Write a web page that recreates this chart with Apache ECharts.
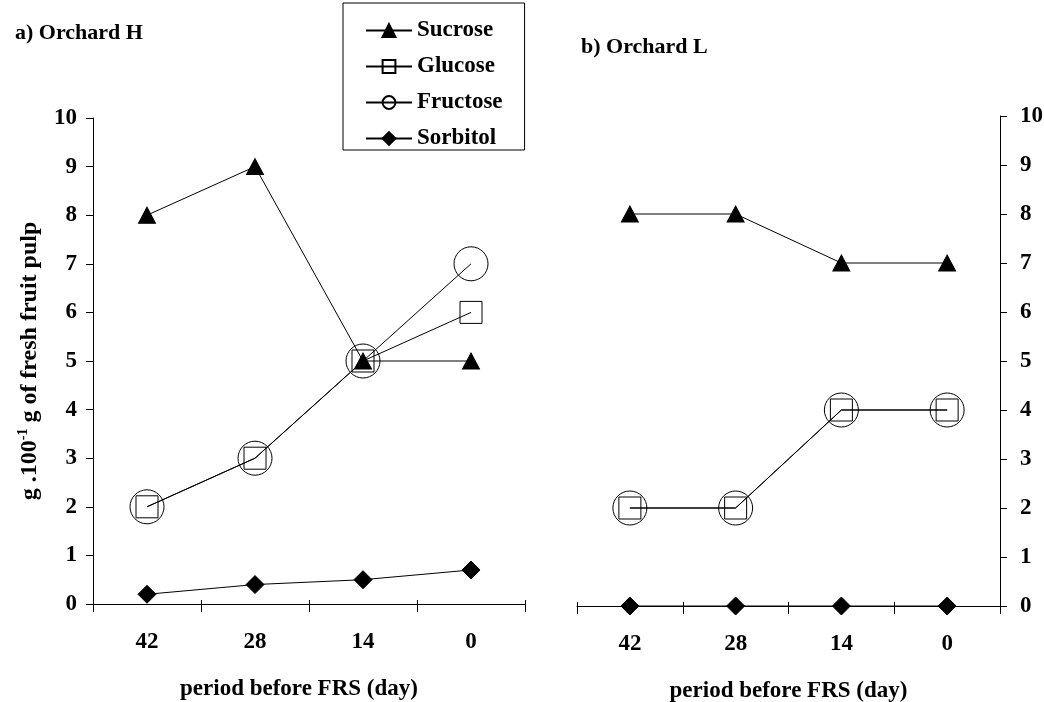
<!DOCTYPE html>
<html>
<head>
    <meta charset="utf-8" />
    <title></title>
    <script src="https://cdn.jsdelivr.net/npm/echarts@6/dist/echarts.min.js"></script>
    <script>
        // categories (days before FRS)
        let days = ['42', '28', '14', '0'];
        // Orchard H
        let sucroseH = [8, 9, 5, 5];
        let glucoseH = [2, 3, 5, 6];
        let fructoseH = [2, 3, 5, 7];
        let sorbitolH = [0.2, 0.4, 0.5, 0.7];
        // Orchard L
        let sucroseL = [8, 8, 7, 7];
        let glucoseL = [2, 2, 4, 4];
        let fructoseL = [2, 2, 4, 4];
        let sorbitolL = [0, 0, 0, 0];

        let font = '"Liberation Serif", "Times New Roman", serif';
        let blk = '#000';

        let serie = function (name, data, xi, yi, symbol, size, fill) {
            return {
                name: name,
                type: 'line',
                data: data,
                xAxisIndex: xi,
                yAxisIndex: yi,
                symbol: symbol,
                symbolSize: size,
                lineStyle: { color: blk, width: 1 },
                itemStyle: { color: fill, borderColor: blk, borderWidth: 1 },
                emphasis: { disabled: true },
                z: name == 'Sucrose' ? 4 : 3
            };
        };

        let xAxisMain = function (gi) {
            return {
                type: 'category',
                gridIndex: gi,
                data: days,
                position: 'bottom',
                axisLine: { lineStyle: { color: blk, width: 1 } },
                axisTick: { show: true, length: 8, lineStyle: { color: blk } },
                axisLabel: { margin: 27, color: blk, fontSize: 23, fontWeight: 'bold', fontFamily: font },
                name: 'period before FRS (day)',
                nameLocation: 'middle',
                nameGap: 74,
                nameTextStyle: { color: blk, fontSize: 23, fontWeight: 'bold', fontFamily: font,
                    padding: gi == 0 ? [0, 20, 0, 0] : 0 }
            };
        };
        // second axis only for the inner half of the crossing ticks
        let xAxisInner = function (gi) {
            return {
                type: 'category',
                gridIndex: gi,
                data: days,
                position: 'bottom',
                axisLine: { show: false },
                axisTick: { show: true, inside: true, length: 4, lineStyle: { color: blk } },
                axisLabel: { show: false }
            };
        };
        let yAxis = function (gi, pos) {
            let ax = {
                type: 'value',
                gridIndex: gi,
                position: pos,
                min: 0,
                max: 10,
                interval: 1,
                splitLine: { show: false },
                axisLine: { show: true, lineStyle: { color: blk, width: 1 } },
                axisTick: { show: true, length: 7, lineStyle: { color: blk } },
                axisLabel: { margin: gi == 0 ? 16 : 20, color: blk, fontSize: 23, fontWeight: 'bold', fontFamily: font }
            };
            if (gi == 0) {
                ax.name = '{a|g .100}{s|-1}{a| g of fresh fruit pulp}';
                ax.nameLocation = 'middle';
                ax.nameRotate = 90;
                ax.nameGap = 49;
                ax.nameTextStyle = {
                    rich: {
                        a: { fontSize: 24, fontWeight: 'bold', fontFamily: font, color: blk, lineHeight: 28 },
                        s: { fontSize: 14, fontWeight: 'bold', fontFamily: font, color: blk, verticalAlign: 'top', lineHeight: 28 }
                    }
                };
            }
            return ax;
        };

        function InitChart() {
            var option = {
                backgroundColor: '#fff',
                animation: false,
                title: [
                    { text: 'a) Orchard H', left: 10, top: 17,
                      textStyle: { color: blk, fontSize: 22, fontWeight: 'bold', fontFamily: font } },
                    { text: 'b) Orchard L', left: 576, top: 31,
                      textStyle: { color: blk, fontSize: 22, fontWeight: 'bold', fontFamily: font } }
                ],
                legend: {
                    data: ['Sucrose', 'Glucose', 'Fructose', 'Sorbitol'],
                    orient: 'vertical',
                    left: 343,
                    top: 3,
                    padding: [16, 22, 0, 22],
                    itemWidth: 46,
                    itemHeight: 16,
                    itemGap: 13,
                    borderColor: blk,
                    borderWidth: 1,
                    backgroundColor: '#fff',
                    selectedMode: false,
                    textStyle: { color: blk, fontSize: 23, fontWeight: 'bold', fontFamily: font }
                },
                grid: [
                    { left: 93, top: 118, width: 432, height: 486, outerBoundsMode: 'none' },
                    { left: 577, top: 116, width: 423, height: 490, outerBoundsMode: 'none' }
                ],
                xAxis: [xAxisMain(0), xAxisMain(1), xAxisInner(0), xAxisInner(1)],
                yAxis: [yAxis(0, 'left'), yAxis(1, 'right')],
                series: [
                    serie('Fructose', fructoseH, 0, 0, 'circle', 34, 'rgba(0,0,0,0)'),
                    serie('Glucose', glucoseH, 0, 0, 'rect', 22, 'rgba(0,0,0,0)'),
                    serie('Sucrose', sucroseH, 0, 0, 'triangle', [17, 16], blk),
                    serie('Sorbitol', sorbitolH, 0, 0, 'diamond', [18, 18], blk),
                    serie('Fructose', fructoseL, 1, 1, 'circle', 34, 'rgba(0,0,0,0)'),
                    serie('Glucose', glucoseL, 1, 1, 'rect', 22, 'rgba(0,0,0,0)'),
                    serie('Sucrose', sucroseL, 1, 1, 'triangle', [17, 16], blk),
                    serie('Sorbitol', sorbitolL, 1, 1, 'diamond', [18, 18], blk)
                ]
            };
            echarts.init(document.getElementById('divChart')).setOption(option);
        }
        window.onload = InitChart;
    </script>
</head>
<body style="margin:0;">
    <div id="divChart" style="width:1044px;height:702px;"></div>
</body>
</html>
